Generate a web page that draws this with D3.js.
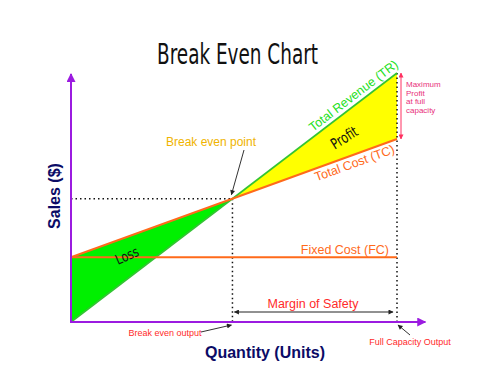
<!DOCTYPE html>
<html>
<head>
<meta charset="utf-8">
<script src="https://cdn.jsdelivr.net/npm/d3@7"></script>
<style>
  html, body { margin: 0; padding: 0; background: #fff; }
  svg { display: block; }
  text { font-family: "Liberation Sans", Arial, sans-serif; }
</style>
</head>
<body>
<svg id="chart" width="479" height="371"></svg>
<script>
// Break-even model (sales in $, quantity in units)
const quantityDomain = [0, 100];      // units, up to full capacity
const salesDomain = [0, 100];         // dollars
const capacity = 100;                 // full capacity output
const pricePerUnit = 1;               // revenue per unit
const fixedCost = 26;                 // fixed cost (FC)
const variableCostPerUnit = 0.475;    // variable cost per unit

const quantities = [0, capacity];
const totalRevenue = quantities.map(q => q * pricePerUnit);
const totalCost = quantities.map(q => fixedCost + q * variableCostPerUnit);
const fixedCostLine = quantities.map(() => fixedCost);

const breakEvenQty = fixedCost / (pricePerUnit - variableCostPerUnit);
const breakEvenSales = breakEvenQty * pricePerUnit;

const svg = d3.select("#chart");

const x = d3.scaleLinear().domain(quantityDomain).range([71, 397]);
const y = d3.scaleLinear().domain(salesDomain).range([322, 73]);

const purple = "#9b1be0";
const navy = "#0b0b66";

// markers
const defs = svg.append("defs");
defs.append("marker").attr("id", "axisArrow")
  .attr("viewBox", "0 0 10 10").attr("refX", 9).attr("refY", 5)
  .attr("markerWidth", 10).attr("markerHeight", 9).attr("markerUnits", "userSpaceOnUse")
  .attr("orient", "auto")
  .append("path").attr("d", "M0,0 L10,5 L0,10 Z").attr("fill", purple);
defs.append("marker").attr("id", "blackArrow")
  .attr("viewBox", "0 0 10 10").attr("refX", 9).attr("refY", 5)
  .attr("markerWidth", 6).attr("markerHeight", 5).attr("markerUnits", "userSpaceOnUse")
  .attr("orient", "auto-start-reverse")
  .append("path").attr("d", "M0,0 L10,5 L0,10 Z").attr("fill", "#222");
defs.append("marker").attr("id", "redArrow")
  .attr("viewBox", "0 0 10 10").attr("refX", 9).attr("refY", 5)
  .attr("markerWidth", 5).attr("markerHeight", 5).attr("markerUnits", "userSpaceOnUse")
  .attr("orient", "auto-start-reverse")
  .append("path").attr("d", "M0,0 L10,5 L0,10 Z").attr("fill", "#ff3060");

// title
svg.append("text")
  .attr("x", 237.5).attr("y", 64)
  .attr("text-anchor", "middle")
  .attr("textLength", 161).attr("lengthAdjust", "spacingAndGlyphs")
  .style("font-family", "'DejaVu Sans', sans-serif")
  .style("font-weight", 400)
  .style("font-size", "29px")
  .attr("fill", "#111")
  .text("Break Even Chart");

// loss and profit areas
const poly = pts => "M" + pts.map(p => [x(p[0]), y(p[1])].join(",")).join("L") + "Z";
svg.append("path")
  .attr("d", poly([[0, 0], [0, fixedCost], [breakEvenQty, breakEvenSales]]))
  .attr("fill", "#00f000");
svg.append("path")
  .attr("d", poly([[breakEvenQty, breakEvenSales], [capacity, totalRevenue[1]], [capacity, totalCost[1]]]))
  .attr("fill", "#ffff00");

// dotted guides
const dotted = (x1, y1, x2, y2) => svg.append("line")
  .attr("x1", x(x1)).attr("y1", y(y1)).attr("x2", x(x2)).attr("y2", y(y2))
  .attr("stroke", "#111").attr("stroke-width", 1.5).attr("stroke-dasharray", "1.5,3");
dotted(0, breakEvenSales, breakEvenQty, breakEvenSales);
dotted(breakEvenQty, breakEvenSales, breakEvenQty, 0);
dotted(capacity, totalRevenue[1], capacity, 0);

const line = d3.line().x((d, i) => x(quantities[i])).y(d => y(d));

// revenue, fixed cost and total cost lines
svg.append("path").attr("d", line(totalRevenue))
  .attr("fill", "none").attr("stroke", "#33c433").attr("stroke-width", 1.6);
svg.append("path").attr("d", line(fixedCostLine))
  .attr("fill", "none").attr("stroke", "#ff6a1a").attr("stroke-width", 2);
svg.append("path").attr("d", line(totalCost))
  .attr("fill", "none").attr("stroke", "#ff6a1a").attr("stroke-width", 2);

// axes
svg.append("line")
  .attr("x1", x(0)).attr("y1", y(0)).attr("x2", x(0)).attr("y2", y(salesDomain[1]) + 1)
  .attr("stroke", purple).attr("stroke-width", 2).attr("marker-end", "url(#axisArrow)");
svg.append("line")
  .attr("x1", x(0) - 1).attr("y1", y(0)).attr("x2", x(108.7)).attr("y2", y(0))
  .attr("stroke", purple).attr("stroke-width", 2).attr("marker-end", "url(#axisArrow)");

// axis titles
svg.append("text")
  .attr("transform", `translate(60,196) rotate(-90)`)
  .attr("text-anchor", "middle")
  .style("font-size", "16px").style("font-weight", "bold")
  .attr("fill", navy).text("Sales ($)");
svg.append("text")
  .attr("x", 265).attr("y", 358)
  .attr("text-anchor", "middle")
  .style("font-size", "16px").style("font-weight", "bold")
  .attr("fill", navy).text("Quantity (Units)");

// line labels
const angleOf = series => Math.atan2(y(series[1]) - y(series[0]), x(quantities[1]) - x(quantities[0])) * 180 / Math.PI;
svg.append("text")
  .attr("transform", `translate(356,99) rotate(${angleOf(totalRevenue)})`)
  .attr("text-anchor", "middle")
  .style("font-size", "12.5px").attr("fill", "#22e022")
  .text("Total Revenue (TR)");
svg.append("text")
  .attr("transform", `translate(356,167) rotate(${angleOf(totalCost)})`)
  .attr("text-anchor", "middle")
  .style("font-size", "12.5px").attr("fill", "#ff6a1a")
  .text("Total Cost (TC)");
svg.append("text")
  .attr("x", 389).attr("y", 254)
  .attr("text-anchor", "end")
  .style("font-size", "12.5px").attr("fill", "#ff6a1a")
  .text("Fixed Cost (FC)");

// area labels
svg.append("text")
  .attr("transform", "translate(347,142) rotate(-32)")
  .attr("text-anchor", "middle")
  .style("font-family", "'DejaVu Sans', sans-serif")
  .style("font-size", "15px")
  .attr("textLength", 29).attr("lengthAdjust", "spacingAndGlyphs")
  .attr("fill", "#111").text("Profit");
svg.append("text")
  .attr("transform", "translate(129,260) rotate(-24)")
  .attr("text-anchor", "middle")
  .style("font-family", "'DejaVu Sans', sans-serif")
  .style("font-size", "14px")
  .attr("textLength", 24).attr("lengthAdjust", "spacingAndGlyphs")
  .attr("fill", "#111").text("Loss");

// break even point
svg.append("text")
  .attr("x", 211).attr("y", 146)
  .attr("text-anchor", "middle")
  .style("font-size", "12px").attr("fill", "#f0b400")
  .text("Break even point");
svg.append("line")
  .attr("x1", 244).attr("y1", 150).attr("x2", x(breakEvenQty) - 1).attr("y2", y(breakEvenSales) - 4)
  .attr("stroke", "#333").attr("stroke-width", 1).attr("marker-end", "url(#blackArrow)");

// margin of safety
svg.append("line")
  .attr("x1", x(breakEvenQty) + 2).attr("y1", 312).attr("x2", x(capacity) - 4).attr("y2", 312)
  .attr("stroke", "#222").attr("stroke-width", 1)
  .attr("marker-start", "url(#blackArrow)").attr("marker-end", "url(#blackArrow)");
svg.append("text")
  .attr("x", 313).attr("y", 308)
  .attr("text-anchor", "middle")
  .style("font-size", "12.5px").attr("fill", "#ff2a2a")
  .text("Margin of Safety");

// output annotations
svg.append("text")
  .attr("x", 165).attr("y", 336)
  .attr("text-anchor", "middle")
  .style("font-size", "9px").attr("fill", "#ff2a2a")
  .text("Break even output");
svg.append("line")
  .attr("x1", 201).attr("y1", 332).attr("x2", x(breakEvenQty) - 1).attr("y2", 325)
  .attr("stroke", "#333").attr("stroke-width", 1).attr("marker-end", "url(#blackArrow)");
svg.append("text")
  .attr("x", 410).attr("y", 345)
  .attr("text-anchor", "middle")
  .style("font-size", "9px").attr("fill", "#ff2a2a")
  .text("Full Capacity Output");
svg.append("line")
  .attr("x1", 410).attr("y1", 335).attr("x2", x(capacity) + 1).attr("y2", 325)
  .attr("stroke", "#333").attr("stroke-width", 1).attr("marker-end", "url(#blackArrow)");

// maximum profit span
svg.append("line")
  .attr("x1", x(capacity) + 4).attr("y1", y(totalRevenue[1]))
  .attr("x2", x(capacity) + 4).attr("y2", y(totalCost[1]))
  .attr("stroke", "#ff3060").attr("stroke-width", 1)
  .attr("marker-start", "url(#redArrow)").attr("marker-end", "url(#redArrow)");
const maxProfitLines = ["Maximum", "Profit", "at full", "capacity"];
svg.append("text")
  .style("font-size", "8px").attr("fill", "#e8307a")
  .selectAll("tspan").data(maxProfitLines).join("tspan")
  .attr("x", 406).attr("y", (d, i) => 87 + i * 8.6)
  .text(d => d);
</script>
</body>
</html>
